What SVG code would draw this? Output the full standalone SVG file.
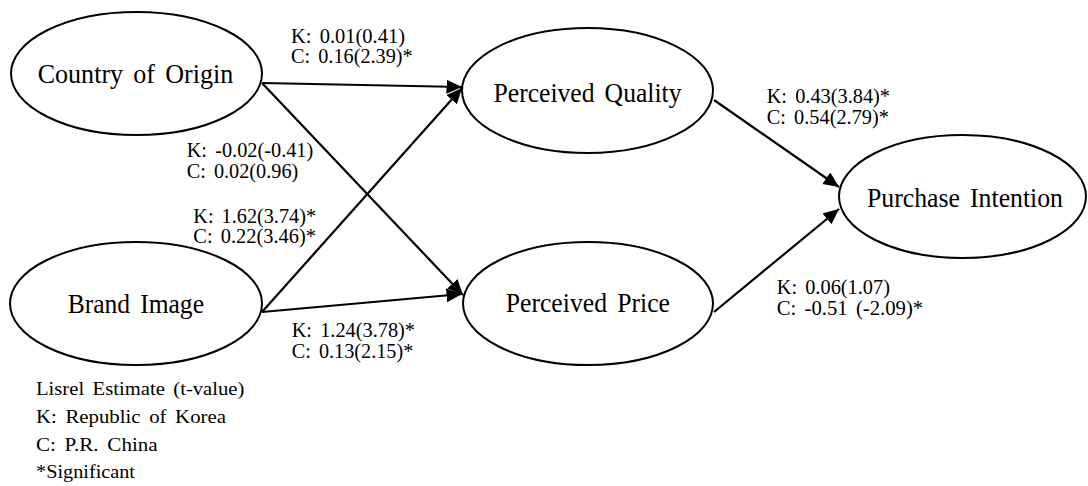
<svg xmlns="http://www.w3.org/2000/svg" width="1088" height="486" viewBox="0 0 1088 486">
  <defs>
    <marker id="arrow" markerUnits="userSpaceOnUse" markerWidth="17" markerHeight="15" refX="15.5" refY="7" orient="auto">
      <path d="M0,0 L15.5,7 L0,14 z" fill="#000"/>
    </marker>
    <style>
      .node ellipse { fill: #fff; stroke: #000; stroke-width: 2; }
      .node text { font-family: "Liberation Serif", "Times New Roman", serif; font-size: 28px; fill: #000; word-spacing: 4px; }
      .edge { fill: none; stroke: #000; stroke-width: 2.2; marker-end: url(#arrow); }
      .coef { font-family: "Liberation Serif", "Times New Roman", serif; font-size: 20px; fill: #000; word-spacing: 3px; }
      .legend { font-family: "Liberation Serif", "Times New Roman", serif; font-size: 18.5px; fill: #000; word-spacing: 3px; }
    </style>
  </defs>
  <rect width="1088" height="486" fill="#fff"/>

  <!-- path connectors -->
  <g id="connectors">
    <path class="edge" d="M262,83 L462,87"/>
    <path class="edge" d="M262,83 L463,295"/>
    <path class="edge" d="M262,312 L462,88"/>
    <path class="edge" d="M262,312 L462,294"/>
    <path class="edge" d="M714,100 L839,187"/>
    <path class="edge" d="M714,312 L839,209"/>
  </g>

  <!-- latent constructs -->
  <g id="country-of-origin" class="node">
    <ellipse cx="136.5" cy="73.5" rx="125.5" ry="61.5"/>
    <text x="37.7" y="83" textLength="195.6" lengthAdjust="spacingAndGlyphs">Country of Origin</text>
  </g>
  <g id="brand-image" class="node">
    <ellipse cx="136" cy="303.5" rx="126" ry="61.5"/>
    <text x="67.7" y="312.7" textLength="136.3" lengthAdjust="spacingAndGlyphs">Brand Image</text>
  </g>
  <g id="perceived-quality" class="node">
    <ellipse cx="587.5" cy="90.5" rx="125.5" ry="62.5"/>
    <text x="493.5" y="101.5" textLength="188" lengthAdjust="spacingAndGlyphs">Perceived Quality</text>
  </g>
  <g id="perceived-price" class="node">
    <ellipse cx="588" cy="303.5" rx="125" ry="61.5"/>
    <text x="505.7" y="312" textLength="164.3" lengthAdjust="spacingAndGlyphs">Perceived Price</text>
  </g>
  <g id="purchase-intention" class="node">
    <ellipse cx="962.5" cy="196.5" rx="123.5" ry="61.5"/>
    <text x="867" y="207" textLength="196" lengthAdjust="spacingAndGlyphs">Purchase Intention</text>
  </g>

  <!-- path coefficients: K = Korea, C = China -->
  <g id="coefficients">
    <text class="coef" x="291" y="42.7" textLength="114" lengthAdjust="spacingAndGlyphs">K: 0.01(0.41)</text>
    <text class="coef" x="291" y="63.3" textLength="121.7" lengthAdjust="spacingAndGlyphs">C: 0.16(2.39)*</text>
    <text class="coef" x="186.7" y="156.7" textLength="126.6" lengthAdjust="spacingAndGlyphs">K: -0.02(-0.41)</text>
    <text class="coef" x="186.7" y="178.3" textLength="111.6" lengthAdjust="spacingAndGlyphs">C: 0.02(0.96)</text>
    <text class="coef" x="193.3" y="222.7" textLength="122.7" lengthAdjust="spacingAndGlyphs">K: 1.62(3.74)*</text>
    <text class="coef" x="193.3" y="243.3" textLength="122.7" lengthAdjust="spacingAndGlyphs">C: 0.22(3.46)*</text>
    <text class="coef" x="291.7" y="337.3" textLength="123.3" lengthAdjust="spacingAndGlyphs">K: 1.24(3.78)*</text>
    <text class="coef" x="291.7" y="358.3" textLength="121.6" lengthAdjust="spacingAndGlyphs">C: 0.13(2.15)*</text>
    <text class="coef" x="766.7" y="102.7" textLength="123.3" lengthAdjust="spacingAndGlyphs">K: 0.43(3.84)*</text>
    <text class="coef" x="766.7" y="123.5" textLength="122.3" lengthAdjust="spacingAndGlyphs">C: 0.54(2.79)*</text>
    <text class="coef" x="776.7" y="294" textLength="113.3" lengthAdjust="spacingAndGlyphs">K: 0.06(1.07)</text>
    <text class="coef" x="776.7" y="315" textLength="146.5" lengthAdjust="spacingAndGlyphs">C: -0.51 (-2.09)*</text>
  </g>

  <!-- legend -->
  <g id="legend">
    <text class="legend" x="36" y="395" textLength="208.3" lengthAdjust="spacingAndGlyphs">Lisrel Estimate (t-value)</text>
    <text class="legend" x="36" y="422.7" textLength="190" lengthAdjust="spacingAndGlyphs">K: Republic of Korea</text>
    <text class="legend" x="36" y="450.7" textLength="121.7" lengthAdjust="spacingAndGlyphs">C: P.R. China</text>
    <text class="legend" x="36" y="478" textLength="99" lengthAdjust="spacingAndGlyphs">*Significant</text>
  </g>
</svg>
